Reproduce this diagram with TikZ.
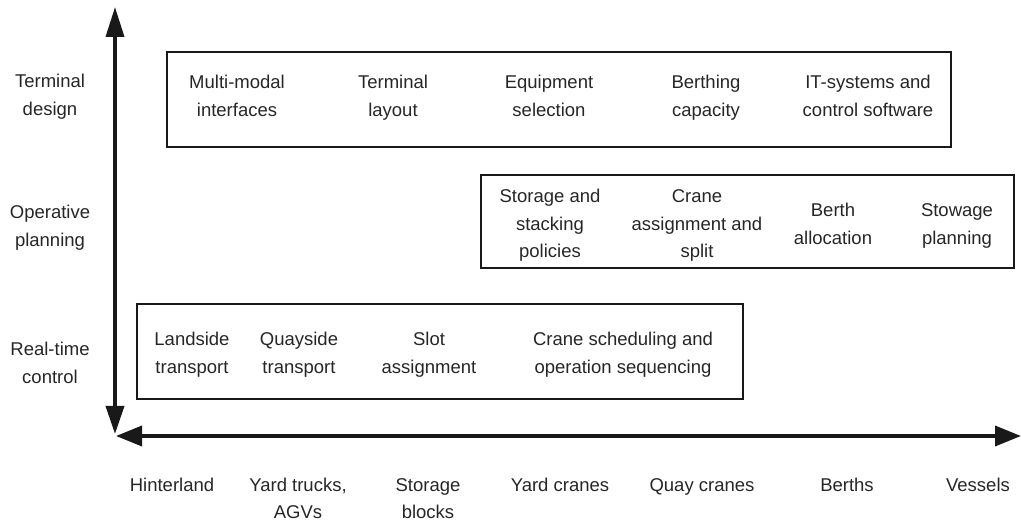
\documentclass[tikz,border=0pt]{standalone}
\usepackage{fontspec}
\setmainfont{Liberation Sans}
\usetikzlibrary{arrows.meta}
\begin{document}
\begin{tikzpicture}[x=1pt,y=-1pt,
  lbl/.style={align=center,text=black!85,font=\fontsize{18.5}{27.5}\selectfont,inner sep=0pt},
  groupbox/.style={draw=black!90,line width=2.8pt},
  axis/.style={line width=3.6pt,draw=black!90}]
\useasboundingbox (0,0) rectangle (1021,521);
% axes
\coordinate (vtop) at (115,7);
\coordinate (vbot) at (115,434);
\coordinate (hleft) at (116,436);
\coordinate (hright) at (1021,436);
\draw[axis,{Triangle[length=30pt,width=18pt]}-{Triangle[length=28pt,width=18pt]}] (vtop) -- (vbot);
\draw[axis,{Triangle[length=26pt,width=20pt]}-{Triangle[length=26pt,width=20pt]}] (hleft) -- (hright);
% boxes
\draw[groupbox] (167,52) rectangle (951,147);
\draw[groupbox] (481,175) rectangle (1014,268);
\draw[groupbox] (137,304) rectangle (743,399);
% left labels
\node[lbl] (td) at (50,96) {\strut Terminal\\\strut design};
\node[lbl] (op) at (50,227) {\strut Operative\\\strut planning};
\node[lbl] (rt) at (50,364) {\strut Real-time\\\strut control};
% top box
\node[lbl] (mm) at (237,97) {\strut Multi-modal\\\strut interfaces};
\node[lbl] (tl) at (393,97) {\strut Terminal\\\strut layout};
\node[lbl] (es) at (549,97) {\strut Equipment\\\strut selection};
\node[lbl] (bc) at (706,97) {\strut Berthing\\\strut capacity};
\node[lbl] (it) at (868,97) {\strut IT-systems and\\\strut control software};
% middle box
\node[lbl] (sp) at (550,225) {\strut Storage and\\\strut stacking\\\strut policies};
\node[lbl] (ca) at (697,225) {\strut Crane\\\strut assignment and\\\strut split};
\node[lbl] (ba) at (833,225) {\strut Berth\\\strut allocation};
\node[lbl] (sw) at (957,225) {\strut Stowage\\\strut planning};
% bottom box
\node[lbl] (lt) at (192,354) {\strut Landside\\\strut transport};
\node[lbl] (qt) at (299,354) {\strut Quayside\\\strut transport};
\node[lbl] (sa) at (429,354) {\strut Slot\\\strut assignment};
\node[lbl] (cs) at (623,354) {\strut Crane scheduling and\\\strut operation sequencing};
% x-axis labels
\node[lbl] (hi) at (172,486) {\strut Hinterland};
\node[lbl] (yt) at (298,499.5) {\strut Yard trucks,\\\strut AGVs};
\node[lbl] (sb) at (428,499.5) {\strut Storage\\\strut blocks};
\node[lbl] (yc) at (560,486) {\strut Yard cranes};
\node[lbl] (qc) at (702,486) {\strut Quay cranes};
\node[lbl] (be) at (847,486) {\strut Berths};
\node[lbl] (ve) at (978,486) {\strut Vessels};
\end{tikzpicture}
\end{document}
